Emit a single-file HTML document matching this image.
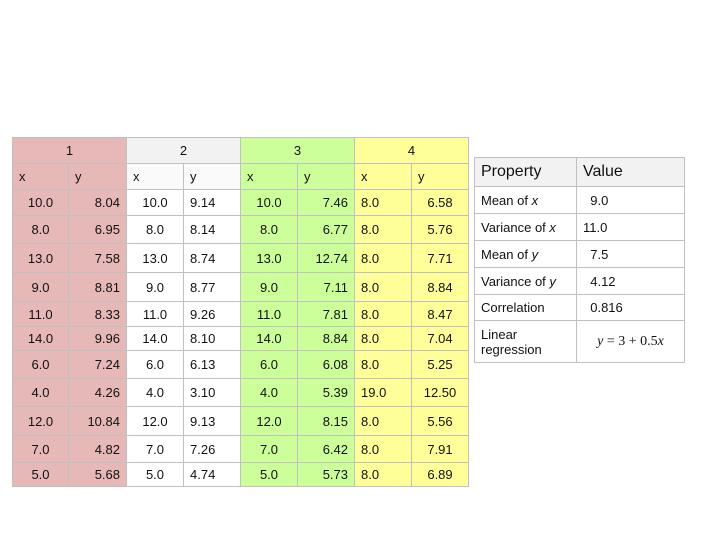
<!DOCTYPE html>
<html><head><meta charset="utf-8"><style>
body{margin:0;width:720px;height:540px;background:#fff;position:relative;overflow:hidden;font-family:"Liberation Sans",sans-serif;font-size:13px;color:#111}
.c{position:absolute;box-sizing:border-box;border:1px solid #c0c0c0;display:flex;align-items:center;white-space:nowrap}
</style></head><body>
<div id="t"></div>
<div id="p"></div>
<script>
const xs1=["10.0","8.0","13.0","9.0","11.0","14.0","6.0","4.0","12.0","7.0","5.0"];
const ys1=["8.04","6.95","7.58","8.81","8.33","9.96","7.24","4.26","10.84","4.82","5.68"];
const xs2=["10.0","8.0","13.0","9.0","11.0","14.0","6.0","4.0","12.0","7.0","5.0"];
const ys2=["9.14","8.14","8.74","8.77","9.26","8.10","6.13","3.10","9.13","7.26","4.74"];
const xs3=["10.0","8.0","13.0","9.0","11.0","14.0","6.0","4.0","12.0","7.0","5.0"];
const ys3=["7.46","6.77","12.74","7.11","7.81","8.84","6.08","5.39","8.15","6.42","5.73"];
const xs4=["8.0","8.0","8.0","8.0","8.0","8.0","8.0","19.0","8.0","8.0","8.0"];
const ys4=["6.58","5.76","7.71","8.84","8.47","7.04","5.25","12.50","5.56","7.91","6.89"];
const props=["Mean of&nbsp;<i>x</i>","Variance of&nbsp;<i>x</i>","Mean of&nbsp;<i>y</i>","Variance of&nbsp;<i>y</i>","Correlation","Linear<br>regression"];
const vals=["&nbsp;&nbsp;9.0","11.0","&nbsp;&nbsp;7.5","&nbsp;&nbsp;4.12","&nbsp;&nbsp;0.816","<span style='font-family:Liberation Serif,serif;font-size:14px'><i>y</i>&nbsp;=&nbsp;3&nbsp;+&nbsp;0.5<i>x</i></span>"];
const T=document.getElementById('t');
function cell(parent,x,y,w,h,html,bg,align,name){
  const d=document.createElement('div');
  d.className='c';
  
  
  d.style.cssText=`left:${x}px;top:${y}px;width:${w+1}px;height:${h+1}px;background:${bg};justify-content:${align};padding:0 6px`;
  d.innerHTML='<span>'+html+'</span>';parent.appendChild(d);
}
const colX=[12,68,126,183,240,297,354,411,468];
const rowY=[189,215,243,272,301,326,350,378,406,435,462,486];
const groups=[[xs1,ys1,"#e6b8b7"],[xs2,ys2,"#ffffff"],[xs3,ys3,"#ccff99"],[xs4,ys4,"#ffff99"]];
const hbg=["#e6b8b7","#f2f2f2","#ccff99","#ffff99"];
const xbg=["#e6b8b7","#fafafa","#ccff99","#ffff99"];
const xal=["center","center","center","flex-start"],yal=["flex-end","flex-start","flex-end","center"];
groups.forEach((g,gi)=>{
  const x0=colX[gi*2],x1=colX[gi*2+1],x2=colX[gi*2+2];
  cell(T,x0,137,x2-x0,26,String(gi+1),hbg[gi],"center","group-"+(gi+1)+"-header");
  cell(T,x0,163,x1-x0,26,"x",xbg[gi],"flex-start","x-col-header");
  cell(T,x1,163,x2-x1,26,"y",xbg[gi],"flex-start","y-col-header");
  for(let r=0;r<11;r++){
    const y=rowY[r],h=rowY[r+1]-rowY[r];
    cell(T,x0,y,x1-x0,h,g[0][r],g[2],xal[gi],"x-value");
    cell(T,x1,y,x2-x1,h,g[1][r],g[2],yal[gi],"y-value");
  }
});
const P=document.getElementById('p');
const pr=[157,186,213,240,267,294,320,362];
cell(P,474,157,102,29,"<span style='font-size:16px'>Property</span>","#f2f2f2","flex-start","property-header");
cell(P,576,157,108,29,"<span style='font-size:16px'>Value</span>","#f2f2f2","flex-start","value-header");
for(let i=0;i<6;i++){
  const y=pr[i+1],h=pr[i+2]-pr[i+1];
  cell(P,474,y,102,h,props[i],"#fff","flex-start","property-name");
  cell(P,576,y,108,h,vals[i],"#fff",i==5?"center":"flex-start","property-value");
}
</script>
</body></html>
